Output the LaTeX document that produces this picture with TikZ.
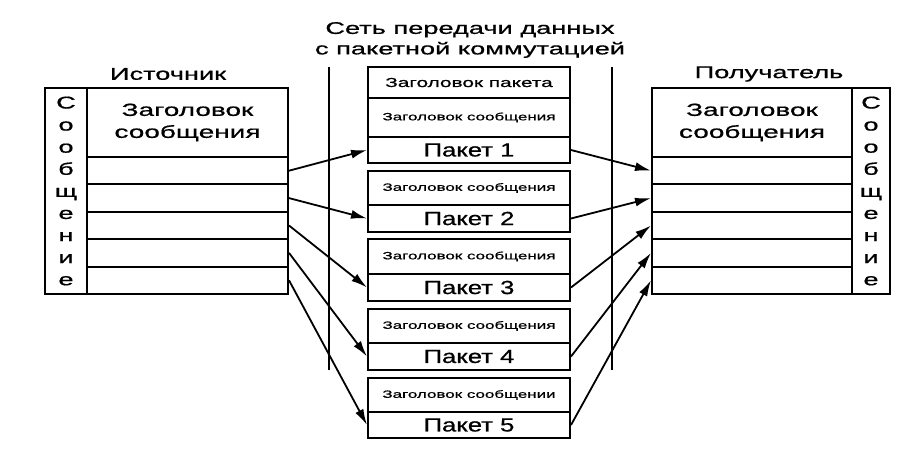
\documentclass[tikz,border=0pt]{standalone}
\usepackage{fontspec}
\setmainfont{Liberation Sans}[FakeStretch=1.6,FakeBold=0.8]
\newfontfamily\pkfont{Liberation Sans}[FakeStretch=1.35,FakeBold=0.8]
\newfontfamily\ttlfont{Liberation Sans}[FakeStretch=1.62,FakeBold=0.8]
\usetikzlibrary{arrows.meta}
\tikzset{
  cell/.style={draw, line width=2pt, inner sep=0pt, anchor=center},
  vline/.style={line width=2pt},
  arr/.style={line width=1.8pt, -{Latex[length=16pt,width=9pt]}},
  big/.style={font=\fontsize{17}{22}\selectfont},
  hbig/.style={font=\fontsize{17.5}{22}\selectfont},
  pk/.style={font=\pkfont\fontsize{19}{22}\selectfont},
  hpk/.style={font=\fontsize{13}{16}\selectfont},
  hms/.style={font=\fontsize{10.6}{14}\selectfont},
}
\begin{document}
\begin{tikzpicture}[x=1pt,y=-1pt]
\useasboundingbox (0,0) rectangle (918,466);
% title
\node[align=center, font=\ttlfont\fontsize{16.8}{20.5}\selectfont] (title) at (470,40) {Сеть передачи данных\\с пакетной коммутацией};
\coordinate (vl1t) at (329,67); \coordinate (vl1b) at (329,370);
\coordinate (vl2t) at (612,67); \coordinate (vl2b) at (612,370);
\draw[vline] (vl1t) -- (vl1b);
\draw[vline] (vl2t) -- (vl2b);
% source
\node[big] (src) at (168,74) {Источник};
\node[cell, minimum width=42pt, minimum height=206pt, align=center, font=\fontsize{17}{22.1}\selectfont] (scol) at (66,191) {С\\о\\о\\б\\щ\\е\\н\\и\\е};
\node[cell, minimum width=201pt, minimum height=69pt, hbig, align=center] (shead) at (187.5,122.5) {Заголовок\\сообщения};
\foreach \i/\y in {1/170.7,2/198.1,3/225.5,4/252.9,5/280.3}{
  \node[cell, minimum width=201pt, minimum height=27.4pt] (S\i) at (187.5,\y) {};
}
% receiver
\node[big] (dst) at (769,74) {Получатель};
\node[cell, minimum width=38pt, minimum height=206pt, align=center, font=\fontsize{17}{22.1}\selectfont] (rcol) at (871,191) {С\\о\\о\\б\\щ\\е\\н\\и\\е};
\node[cell, minimum width=200pt, minimum height=69pt, hbig, align=center] (rhead) at (752,122.5) {Заголовок\\сообщения};
\foreach \i/\y in {1/170.7,2/198.1,3/225.5,4/252.9,5/280.3}{
  \node[cell, minimum width=200pt, minimum height=27.4pt] (R\i) at (752,\y) {};
}
% packets
\node[cell, minimum width=202pt, minimum height=31pt, hpk] (HP1) at (469,82.5) {Заголовок пакета};
\node[cell, minimum width=202pt, minimum height=39pt, hms] (HM1) at (469,117.5) {Заголовок сообщения};
\node[cell, minimum width=202pt, minimum height=26pt, pk] (P1) at (469,150) {Пакет 1};
\node[cell, minimum width=202pt, minimum height=34pt, hms] (HM2) at (469,188) {Заголовок сообщения};
\node[cell, minimum width=202pt, minimum height=27pt, pk] (P2) at (469,218.5) {Пакет 2};
\node[cell, minimum width=202pt, minimum height=35pt, hms] (HM3) at (469,256.5) {Заголовок сообщения};
\node[cell, minimum width=202pt, minimum height=27pt, pk] (P3) at (469,287.5) {Пакет 3};
\node[cell, minimum width=202pt, minimum height=34pt, hms] (HM4) at (469,326) {Заголовок сообщения};
\node[cell, minimum width=202pt, minimum height=27pt, pk] (P4) at (469,356.5) {Пакет 4};
\node[cell, minimum width=202pt, minimum height=34pt, hms] (HM5) at (469,395) {Заголовок сообщении};
\node[cell, minimum width=202pt, minimum height=26pt, pk] (P5) at (469,425) {Пакет 5};
% arrows
\foreach \i in {1,...,5}{
  \draw[arr] (S\i.east) -- (P\i.west);
  \draw[arr] (P\i.east) -- (R\i.west);
}
\end{tikzpicture}
\end{document}
